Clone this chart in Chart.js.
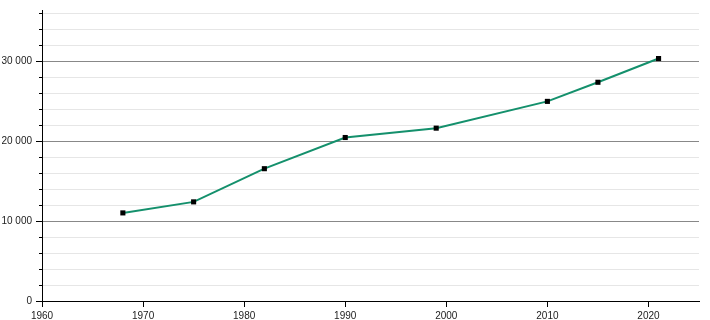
<!DOCTYPE html>
<html>
<head>
<meta charset="utf-8">
<script src="https://cdn.jsdelivr.net/npm/chart.js@4/dist/chart.umd.min.js"></script>
<style>
  html, body { margin: 0; padding: 0; background: #fff; }
  #wrap { width: 710px; height: 320px; }
</style>
</head>
<body>
<div id="wrap"><canvas id="c" width="710" height="320"></canvas></div>
<script>
// Data
const years = [1968, 1975, 1982, 1990, 1999, 2010, 2015, 2021];
const population = [11020, 12400, 16550, 20450, 21620, 24970, 27360, 30330];
const xTickYears = [1960, 1970, 1980, 1990, 2000, 2010, 2020];
const yMajorTicks = [0, 10000, 20000, 30000];
const yAllTicks = [0, 2000, 4000, 6000, 8000, 10000, 12000, 14000, 16000, 18000,
                   20000, 22000, 24000, 26000, 28000, 30000, 32000, 34000, 36000];

const fmt = v => String(v).replace(/\B(?=(\d{3})+(?!\d))/g, ' ');
const isMajor = v => yMajorTicks.indexOf(Math.round(v)) !== -1;

const minorTicksPlugin = {
  id: 'minorTicks',
  afterDatasetsDraw(chart) {
    const s = chart.scales.y;
    const ctx = chart.ctx;
    ctx.save();
    ctx.strokeStyle = '#000';
    ctx.lineWidth = 1;
    yAllTicks.forEach(v => {
      if (!isMajor(v)) {
        const py = Math.round(s.getPixelForValue(v)) + 0.5;
        ctx.beginPath();
        ctx.moveTo(s.right - 3, py);
        ctx.lineTo(s.right, py);
        ctx.stroke();
      }
    });
    ctx.restore();
  }
};

new Chart(document.getElementById('c'), {
  type: 'line',
  data: {
    datasets: [{
      data: years.map((y, i) => ({ x: y, y: population[i] })),
      borderColor: '#14906c',
      borderWidth: 2,
      pointStyle: 'rect',
      pointRadius: 3.6,
      pointBackgroundColor: '#000',
      pointBorderWidth: 0,
      tension: 0,
      fill: false
    }]
  },
  options: {
    responsive: false,
    animation: false,
    devicePixelRatio: 1,
    layout: { padding: { top: 10, right: 11, left: 0, bottom: 0 } },
    plugins: { legend: { display: false }, tooltip: { enabled: false } },
    scales: {
      x: {
        type: 'linear',
        min: 1960,
        max: 2025,
        afterBuildTicks: s => { s.ticks = xTickYears.map(v => ({ value: v })); },
        ticks: {
          padding: 3,
          color: '#222',
          font: { family: 'Liberation Sans, Arial, sans-serif', size: 10 },
          callback: v => String(v),
          maxRotation: 0,
          autoSkip: false
        },
        grid: { drawOnChartArea: false, drawTicks: true, tickLength: 6, tickColor: '#000' },
        border: { color: '#000', width: 1 },
        afterFit: s => { s.height = 19; }
      },
      y: {
        type: 'linear',
        min: 0,
        max: 36400,
        afterBuildTicks: s => { s.ticks = yAllTicks.map(v => ({ value: v })); },
        ticks: {
          padding: 4,
          color: '#222',
          font: { family: 'Liberation Sans, Arial, sans-serif', size: 10 },
          autoSkip: false,
          callback: v => isMajor(v) ? fmt(v) : ''
        },
        grid: {
          color: c => (c.tick && isMajor(c.tick.value)) ? '#888' : '#e6e6e6',
          tickColor: c => (c.tick && isMajor(c.tick.value)) ? '#000' : 'rgba(0,0,0,0)',
          tickLength: 6,
          lineWidth: 1
        },
        border: { color: '#000', width: 1 },
        afterFit: s => { s.width = 42; }
      }
    }
  },
  plugins: [minorTicksPlugin]
});
</script>
</body>
</html>
